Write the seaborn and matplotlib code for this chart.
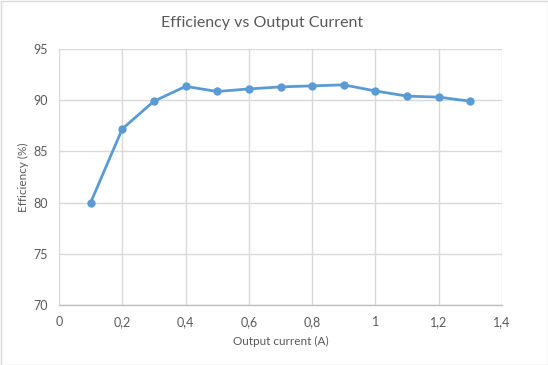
import matplotlib
matplotlib.use("Agg")
import matplotlib.pyplot as plt
import seaborn as sns
import pandas as pd
from matplotlib.patches import Rectangle

current = [0.1, 0.2, 0.3, 0.4, 0.5, 0.6, 0.7, 0.8, 0.9, 1.0, 1.1, 1.2, 1.3]
efficiency = [80.0, 87.2, 89.9, 91.35, 90.85, 91.1, 91.3, 91.4, 91.5, 90.9, 90.4, 90.3, 89.9]
x_ticks = [0, 0.2, 0.4, 0.6, 0.8, 1.0, 1.2, 1.4]
x_tick_labels = ["0", "0,2", "0,4", "0,6", "0,8", "1", "1,2", "1,4"]
y_ticks = [70, 75, 80, 85, 90, 95]

sns.set_theme(style="white")
plt.rcParams['font.family'] = ['Lato', 'DejaVu Sans']

df = pd.DataFrame({"current": current, "efficiency": efficiency})

fig = plt.figure(figsize=(5.48, 3.65), dpi=100)
ax = fig.add_axes([59/548, 60/365, 443/548, 256/365])

sns.lineplot(data=df, x="current", y="efficiency", ax=ax, color="#5B9BD5",
             linewidth=2, marker="o", markersize=6, markeredgewidth=0)

text_color = "#595959"
grid_color = "#D9D9D9"
ax.set_xlim(0, 1.4)
ax.set_ylim(70, 95)
ax.set_xticks(x_ticks)
ax.set_xticklabels(x_tick_labels)
ax.set_yticks(y_ticks)
ax.grid(True, color=grid_color, linewidth=1)
ax.set_axisbelow(True)
for side in ["top", "right", "left"]:
    ax.spines[side].set_visible(False)
ax.spines["bottom"].set_color("#BFBFBF")
ax.spines["bottom"].set_linewidth(1)
ax.tick_params(axis="both", length=0, labelsize=9, colors=text_color, pad=8)
ax.set_xlabel("Output current (A)", fontsize=8.5, color=text_color, labelpad=6)
ax.set_ylabel("Efficiency (%)", fontsize=8.5, color=text_color, labelpad=3)

fig.text(262/548, 1 - 23/365, "Efficiency vs Output Current", ha="center", va="center",
         fontsize=11.5, color=text_color)

fig.patches.append(Rectangle((0.5/548, 0.5/365), 547/548, 364/365, transform=fig.transFigure,
                             fill=False, edgecolor="#D9D9D9", linewidth=1))

fig.savefig("out.png", dpi=100)
